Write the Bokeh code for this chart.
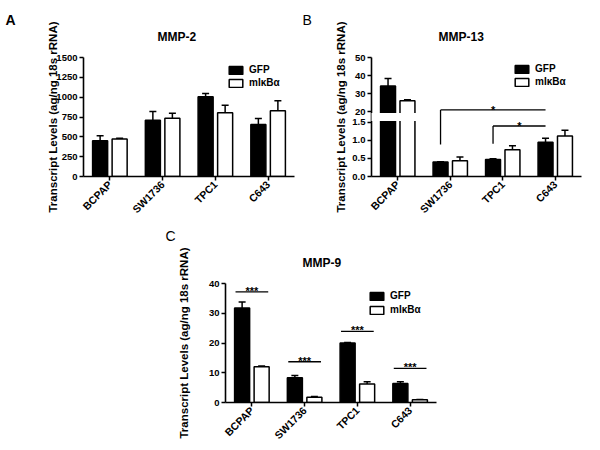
import numpy as np
from bokeh.plotting import figure
from bokeh.models import (Range1d, Legend, LegendItem, Whisker, TeeHead, ColumnDataSource,
                          BoxAnnotation, FixedTicker, Spacer, Title)
from bokeh.layouts import row, column
from bokeh.embed import file_html
from bokeh.resources import INLINE
from bokeh.core.properties import value

# ---------------- data ----------------
cell_lines = ["BCPAP", "SW1736", "TPC1", "C643"]
series_names = ["GFP", "mIκBα"]
y_title = "Transcript Levels (ag/ng 18s rRNA)"

# MMP-2
mmp2_gfp = [450, 710, 1005, 655]
mmp2_gfp_sem = [65, 110, 42, 75]
mmp2_mik = [473, 733, 805, 830]
mmp2_mik_sem = [9, 63, 92, 125]
mmp2_ticks = [0, 250, 500, 750, 1000, 1250, 1500]

# MMP-13 (broken axis: 0-1.5 and 20-50)
mmp13_gfp = [34.2, 0.40, 0.47, 0.95]
mmp13_gfp_sem = [4.2, 0.01, 0.02, 0.11]
mmp13_mik = [26.0, 0.44, 0.74, 1.12]
mmp13_mik_sem = [0.5, 0.10, 0.11, 0.16]
mmp13_low_ticks = [0.0, 0.5, 1.0, 1.5]
mmp13_low_labels = ["0.0", "0.5", "1.0", "1.5"]
mmp13_high_ticks = [20, 30, 40, 50]
mmp13_high_labels = ["20", "30", "40", "50"]
mmp13_br_from = ["SW1736", "TPC1"]
mmp13_br_to = ["C643", "C643"]
mmp13_br_level = [20.9, 1.4]
mmp13_br_drop = [0.89, 0.91]
mmp13_br_text = ["*", "*"]

# MMP-9
mmp9_gfp = [31.8, 8.3, 20.0, 6.4]
mmp9_gfp_sem = [2.0, 0.8, 0.15, 0.6]
mmp9_mik = [12.0, 1.8, 6.2, 0.95]
mmp9_mik_sem = [0.3, 0.2, 0.8, 0.1]
mmp9_ticks = [0, 10, 20, 30, 40]
mmp9_sig_level = [37.2, 13.7, 23.9, 11.5]
mmp9_sig_text = ["***", "***", "***", "***"]

# ---------------- style ----------------
FONT = "Liberation Sans"
BAR_W = 0.285
DODGE = 0.185
centers = np.arange(len(cell_lines)) + 0.5
idx = {c: i for i, c in enumerate(cell_lines)}

LOW_TOP, HIGH_BOTTOM, HIGH_TOP, GAP = 1.5, 20.0, 50.0, 0.3
HIGH_SCALE = LOW_TOP / (HIGH_TOP - HIGH_BOTTOM)


def identity(v):
    return np.asarray(v, dtype=float)


def broken(v):
    v = np.asarray(v, dtype=float)
    return np.where(v <= LOW_TOP, v, LOW_TOP + GAP + (v - HIGH_BOTTOM) * HIGH_SCALE)


def make_panel(title, title_offset, title_standoff, width, height, borders, y_max,
               ytick_vals, ytick_labels, gfp, gfp_sem, mik, mik_sem,
               label_standoff, legend_xy, legend_spacing,
               letter, letter_offset, letter_standoff, letter_bold, ymap=identity):
    left, right, top, bottom = borders
    p = figure(width=width, height=height, title=None,
               x_range=Range1d(0, len(cell_lines)),
               y_range=Range1d(0, float(ymap([y_max])[0])),
               output_backend="svg", toolbar_location=None,
               min_border_left=left, min_border_right=right,
               min_border_top=top, min_border_bottom=bottom)
    p.xgrid.visible = False
    p.ygrid.visible = False
    p.outline_line_color = None
    p.background_fill_color = "white"

    p.add_layout(Title(text=title, align="left", offset=title_offset, standoff=title_standoff,
                       text_font=FONT, text_font_size="12px", text_font_style="bold",
                       text_color="black"), "above")
    p.add_layout(Title(text=letter, align="left", offset=letter_offset, standoff=letter_standoff,
                       text_font=FONT, text_font_size="14px",
                       text_font_style="bold" if letter_bold else "normal",
                       text_color="black"), "above")

    for ax in p.axis:
        ax.axis_line_width = 1.6
        ax.axis_line_color = "black"
        ax.major_tick_line_width = 1.5
        ax.major_tick_line_color = "black"
        ax.major_tick_out = 4
        ax.major_tick_in = 0
        ax.minor_tick_out = 0
        ax.minor_tick_in = 0
        ax.major_label_text_font = FONT
        ax.major_label_text_font_style = "bold"
        ax.major_label_text_color = "black"
        ax.major_label_standoff = 2

    xt = [float(c) for c in centers]
    p.xaxis.ticker = FixedTicker(ticks=xt)
    p.xaxis.major_label_overrides = dict(zip(xt, cell_lines))
    p.xaxis.major_label_orientation = np.pi / 4
    p.xaxis.major_label_text_font_size = "10.5px"

    yt = [round(float(t), 6) for t in ymap(ytick_vals)]
    p.yaxis.ticker = FixedTicker(ticks=yt)
    p.yaxis.major_label_overrides = dict(zip(yt, ytick_labels))
    p.yaxis.major_label_text_font_size = "9.5px"
    p.yaxis.axis_label = y_title
    p.yaxis.axis_label_text_font = FONT
    p.yaxis.axis_label_text_font_size = "11.5px"
    p.yaxis.axis_label_text_font_style = "bold"
    p.yaxis.axis_label_text_color = "black"
    p.yaxis.axis_label_standoff = label_standoff

    src = ColumnDataSource(dict(
        xg=(centers - DODGE).tolist(), xm=(centers + DODGE).tolist(),
        g=ymap(gfp).tolist(), g_up=ymap(np.add(gfp, gfp_sem)).tolist(),
        m=ymap(mik).tolist(), m_up=ymap(np.add(mik, mik_sem)).tolist()))

    for base, lo, up in (("xg", "g", "g_up"), ("xm", "m", "m_up")):
        p.add_layout(Whisker(base=base, lower=lo, upper=up, source=src,
                             line_color="black", line_width=1.5, lower_head=None,
                             upper_head=TeeHead(size=7, line_width=1.5, line_color="black")))

    rg = p.vbar(x="xg", top="g", width=BAR_W, source=src,
                fill_color="black", line_color="black", line_width=1.5)
    rm = p.vbar(x="xm", top="m", width=BAR_W, source=src,
                fill_color="white", line_color="black", line_width=1.5)

    legend = Legend(items=[LegendItem(label=series_names[0], renderers=[rg]),
                           LegendItem(label=series_names[1], renderers=[rm])],
                    location=legend_xy, padding=0, margin=0, spacing=legend_spacing,
                    glyph_width=17, glyph_height=10, label_height=10, label_standoff=5,
                    border_line_color=None, background_fill_alpha=0,
                    label_text_font=FONT, label_text_font_size="10px",
                    label_text_font_style="bold", label_text_color="black")
    p.add_layout(legend)
    return p


# Panel A : MMP-2   (frame x 83-294, y 57-176)
pA = make_panel("MMP-2", 74, 27, 300, 222, (83, 6, 57, 46), 1500,
                mmp2_ticks, [str(t) for t in mmp2_ticks],
                mmp2_gfp, mmp2_gfp_sem, mmp2_mik, mmp2_mik_sem,
                -6, (144, 88), 2, "A", -78, -26, True)

# Panel B : MMP-13 (frame x 371-581, y 56-177), broken axis
pB = make_panel("MMP-13", 67, 27, 300, 222, (71, 19, 56, 45), HIGH_TOP,
                mmp13_low_ticks + mmp13_high_ticks, mmp13_low_labels + mmp13_high_labels,
                mmp13_gfp, mmp13_gfp_sem, mmp13_mik, mmp13_mik_sem,
                2, (142, 89), 2, "B", -69, -26, False, ymap=broken)

# gap of the broken axis
pB.add_layout(BoxAnnotation(left=-4, left_units="screen", right=1.0,
                            bottom=LOW_TOP + GAP * 0.12, top=LOW_TOP + GAP * 0.88,
                            fill_color="white", fill_alpha=1.0, line_color=None))

# significance brackets for MMP-13
bx0 = [float(centers[idx[c]] - DODGE) for c in mmp13_br_from]
bx1 = [float(centers[idx[c]] - DODGE) for c in mmp13_br_to]
blev = broken(mmp13_br_level).tolist()
bdrop = broken(mmp13_br_drop).tolist()
bsrc = ColumnDataSource(dict(x0=bx0, x1=bx1, lev=blev, drop=bdrop,
                             xm=[(a + b) / 2 for a, b in zip(bx0, bx1)], txt=mmp13_br_text))
pB.segment(x0="x0", y0="lev", x1="x1", y1="lev", source=bsrc, line_color="black", line_width=1.3)
pB.segment(x0="x0", y0="drop", x1="x0", y1="lev", source=bsrc, line_color="black", line_width=1.3)
pB.text(x="xm", y="lev", text="txt", source=bsrc, text_font=value(FONT),
        text_font_size=value("11px"), text_font_style="bold", text_color="black",
        text_align="center", text_baseline="alphabetic")

# Panel C : MMP-9 (frame x 225-436, y 283-402)
pC = make_panel("MMP-9", 77, 27, 292, 228, (67, 14, 61, 48), 40,
                mmp9_ticks, [str(t) for t in mmp9_ticks],
                mmp9_gfp, mmp9_gfp_sem, mmp9_mik, mmp9_mik_sem,
                16, (143, 87), 3, "C", -60, -6, False)

ssrc = ColumnDataSource(dict(x0=(centers - 0.31).tolist(), x1=(centers + 0.31).tolist(),
                             xc=centers.tolist(), y=mmp9_sig_level, txt=mmp9_sig_text))
pC.segment(x0="x0", y0="y", x1="x1", y1="y", source=ssrc, line_color="black", line_width=1.3)
pC.text(x="xc", y="y", text="txt", source=ssrc, text_font=value(FONT),
        text_font_size=value("11px"), text_font_style="bold", text_color="black",
        text_align="center", text_baseline="alphabetic", y_offset=-1)

layout = column(row(pA, pB), row(Spacer(width=158, height=228), pC))

open("out.html", "w").write(file_html(layout, INLINE))
